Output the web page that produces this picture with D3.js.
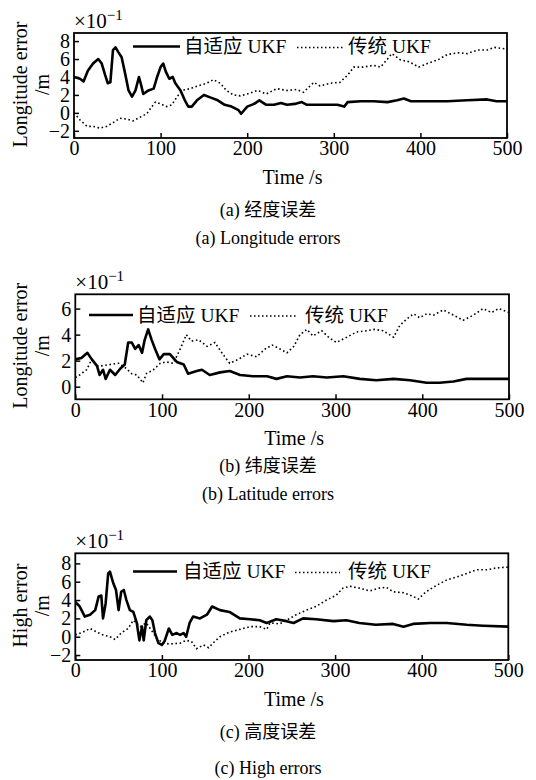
<!DOCTYPE html>
<html><head><meta charset="utf-8">
<script src="https://cdn.jsdelivr.net/npm/d3@7"></script>
<style>
body{margin:0;background:#fff;}
svg{display:block;}
text{font-family:"Liberation Serif","Noto Sans CJK SC",serif;fill:#000;}
</style></head>
<body><svg id="c" width="536" height="780"></svg>
<script>
// ---------- data ----------
const timeTicks = [0,100,200,300,400,500];
const yTicksA = [-2,0,2,4,6,8];
const yTicksB = [0,2,4,6];
const yTicksC = [-2,0,2,4,6,8];
const seriesNames = ["自适应 UKF","传统 UKF"];
const captionsCN = ["(a) 经度误差","(b) 纬度误差","(c) 高度误差"];
const captionsEN = ["(a) Longitude errors","(b) Latitude errors","(c) High errors"];
const yLabels = ["Longitude error","Longitude error","High error"];

// panel (a): [time s, error x10^-1 m]
const lonAdaptive = [[0,4.0],[7,3.8],[11,3.5],[16,4.7],[22,5.5],[28,6.0],[32,5.5],[36,4.2],[39,3.3],[42,3.4],[45,7.0],[48,7.3],[51,6.8],[55,6.2],[59,4.4],[63,2.5],[67,1.8],[71,2.5],[75,4.0],[77,3.3],[80,2.1],[86,2.5],[92,2.7],[96,4.0],[100,5.1],[103,5.5],[106,4.6],[110,3.8],[114,4.0],[117,3.3],[123,2.5],[128,1.4],[132,0.7],[136,0.7],[142,1.4],[150,2.0],[158,1.7],[166,1.4],[174,0.9],[182,0.7],[190,0.3],[193,-0.1],[200,0.7],[208,1.0],[214,1.4],[222,0.9],[231,0.9],[239,1.1],[246,0.9],[255,1.0],[263,1.2],[269,0.9],[281,0.9],[293,0.9],[304,0.9],[312,0.7],[316,1.2],[331,1.3],[346,1.3],[362,1.2],[373,1.4],[381,1.6],[389,1.3],[408,1.3],[431,1.3],[454,1.4],[477,1.5],[488,1.3],[500,1.3]];
const lonTraditional = [[0,0],[7,-0.8],[15,-1.5],[22,-1.5],[30,-1.7],[38,-1.5],[45,-1.1],[53,-0.6],[61,-0.7],[68,-0.9],[76,-0.5],[84,-0.1],[90,0.7],[94,1.2],[100,1.0],[107,0.7],[113,0.9],[119,1.8],[125,2.5],[134,2.7],[146,3.1],[153,3.3],[161,3.7],[169,3.3],[176,2.5],[184,2.0],[192,1.9],[200,2.1],[212,2.5],[222,2.1],[234,2.7],[246,2.5],[257,2.6],[265,2.3],[277,3.4],[284,3.0],[296,3.3],[307,3.4],[316,4.2],[323,5.1],[334,5.1],[346,5.3],[354,5.1],[362,6.0],[367,6.6],[377,5.9],[387,5.7],[398,5.1],[408,5.5],[420,5.9],[431,6.5],[443,6.7],[454,6.6],[466,7.0],[477,7.0],[485,7.3],[500,7.1]];

// panel (b)
const latAdaptive = [[0,2.1],[7,2.2],[14,2.6],[19,2.1],[25,1.6],[28,0.9],[32,1.3],[35,0.6],[40,1.3],[46,0.9],[52,1.4],[57,1.7],[61,3.4],[65,3.4],[69,2.9],[73,3.2],[77,2.6],[80,3.6],[84,4.4],[88,3.6],[92,2.9],[97,2.1],[102,2.5],[109,2.5],[117,1.9],[125,1.7],[130,1.0],[140,1.2],[146,1.3],[155,0.9],[167,1.1],[178,1.2],[190,0.9],[205,0.8],[221,0.8],[232,0.6],[244,0.8],[259,0.7],[274,0.8],[290,0.7],[309,0.8],[328,0.6],[347,0.5],[367,0.6],[386,0.5],[405,0.3],[420,0.3],[436,0.4],[451,0.6],[470,0.6],[500,0.6]];
const latTraditional = [[0,0.7],[5,0.9],[13,1.3],[19,2.1],[25,1.6],[30,1.6],[40,1.7],[50,1.8],[57,1.5],[65,1.0],[71,0.9],[78,0.3],[82,1.0],[90,1.3],[98,1.8],[105,1.9],[113,1.8],[121,2.9],[128,4.0],[134,3.5],[142,3.6],[152,3.1],[161,3.4],[169,2.6],[178,1.8],[188,2.1],[198,2.5],[209,2.3],[219,2.9],[227,3.2],[236,2.9],[244,2.6],[252,3.1],[259,4.0],[267,4.4],[274,3.9],[284,4.3],[292,3.8],[301,3.4],[313,3.8],[324,4.2],[336,4.3],[345,4.4],[355,4.3],[367,3.8],[374,4.7],[382,5.2],[390,5.6],[397,5.3],[405,5.6],[413,5.5],[424,5.9],[436,5.5],[447,5.1],[459,5.5],[470,6.0],[480,5.7],[488,6.0],[500,5.7]];

// panel (c)
const hgtAdaptive = [[0,3.8],[5,3.3],[11,2.2],[17,2.4],[23,2.9],[27,4.4],[30,4.5],[32,2.0],[35,3.6],[38,6.9],[40,7.1],[44,5.8],[47,5.1],[50,2.9],[53,4.9],[56,5.1],[59,4.0],[63,2.9],[67,2.7],[71,1.5],[74,-0.4],[77,1.1],[79,-0.4],[82,1.8],[86,2.2],[89,1.8],[92,0.4],[96,-0.7],[100,-0.9],[103,-0.5],[108,0.9],[112,0.2],[117,0.4],[121,0.2],[125,0.4],[128,0.0],[132,1.5],[136,2.2],[144,2.0],[152,2.4],[158,3.3],[167,2.9],[178,2.7],[190,2.0],[202,1.9],[213,1.8],[221,1.5],[232,1.9],[244,1.7],[252,1.5],[263,2.0],[278,1.9],[298,1.7],[313,1.8],[328,1.5],[347,1.3],[367,1.4],[379,1.1],[390,1.4],[410,1.5],[429,1.5],[452,1.3],[471,1.2],[500,1.1]];
const hgtTraditional = [[0,0.2],[9,0.5],[17,0.9],[25,0.5],[32,0.2],[40,0.0],[46,-0.3],[53,0.4],[61,0.9],[67,1.8],[75,1.1],[82,1.5],[88,0.7],[94,-0.2],[102,-0.7],[109,-0.8],[121,-0.7],[128,-0.4],[134,-0.5],[140,-1.3],[148,-0.9],[154,-1.2],[159,-0.7],[167,0.0],[178,0.5],[190,0.8],[202,1.1],[213,1.1],[221,0.8],[225,1.5],[236,1.4],[248,2.0],[255,2.4],[267,2.9],[278,3.3],[290,4.0],[301,4.5],[309,5.3],[317,5.5],[328,5.3],[340,5.0],[351,5.3],[359,5.4],[367,4.9],[379,4.8],[390,4.4],[396,4.1],[405,4.9],[417,5.6],[429,6.2],[440,6.5],[452,6.9],[463,7.3],[475,7.3],[486,7.5],[500,7.6]];

// ---------- layout ----------
const panels = [
  {x0:74, x1:507, top:33, bottom:138, yDom:[-2.8,8.9], yTicks:yTicksA, a:lonAdaptive, t:lonTraditional,
   legY:46.5, legSolid:[133,180], legText1:184, legDot:[297,343], legText2:348, yLab:yLabels[0], capY:[210,238]},
  {x0:75.3, x1:509, top:294.3, bottom:399.3, yDom:[-0.97,7.1], yTicks:yTicksB, a:latAdaptive, t:latTraditional,
   legY:315, legSolid:[89,133], legText1:137, legDot:[250,298], legText2:305, yLab:yLabels[1], capY:[466,494]},
  {x0:75.3, x1:508.3, top:553.3, bottom:660, yDom:[-2.54,9.1], yTicks:yTicksC, a:hgtAdaptive, t:hgtTraditional,
   legY:571.5, legSolid:[133,177], legText1:183, legDot:[295,340], legText2:348, yLab:yLabels[2], capY:[732,768]}
];

const svg = d3.select("#c");
const fmt = d => d < 0 ? "\u2212" + Math.abs(d) : String(d);

panels.forEach((p, i) => {
  const g = svg.append("g");
  const x = d3.scaleLinear().domain([0,500]).range([p.x0, p.x1]);
  const y = d3.scaleLinear().domain(p.yDom).range([p.bottom, p.top]);

  // axes with inward ticks
  const ax = g.append("g").attr("transform", `translate(0,${p.bottom})`)
    .call(d3.axisBottom(x).tickValues(timeTicks).tickSizeInner(-5).tickSizeOuter(0).tickPadding(3));
  const ay = g.append("g").attr("transform", `translate(${p.x0},0)`)
    .call(d3.axisLeft(y).tickValues(p.yTicks).tickFormat(fmt).tickSizeInner(-5).tickSizeOuter(0).tickPadding(4));
  [ax, ay].forEach(a => {
    a.select(".domain").remove();
    a.selectAll("line").attr("stroke", "#000").attr("stroke-width", 1.5);
    a.selectAll("text").style("font-family", '"Liberation Serif",serif').style("font-size", "20px").attr("fill", "#000");
  });

  // clip
  const cid = "clip" + i;
  svg.append("clipPath").attr("id", cid).append("rect")
    .attr("x", p.x0).attr("y", p.top).attr("width", p.x1 - p.x0).attr("height", p.bottom - p.top);

  const line = d3.line().x(d => x(d[0])).y(d => y(d[1]));
  g.append("path").datum(p.t).attr("d", line).attr("clip-path", `url(#${cid})`)
    .attr("fill", "none").attr("stroke", "#000").attr("stroke-width", 1.6).attr("stroke-dasharray", "1.6,2.6");
  g.append("path").datum(p.a).attr("d", line).attr("clip-path", `url(#${cid})`)
    .attr("fill", "none").attr("stroke", "#000").attr("stroke-width", 2.6).attr("stroke-linejoin", "round");

  // frame
  g.append("rect").attr("x", p.x0).attr("y", p.top).attr("width", p.x1 - p.x0).attr("height", p.bottom - p.top)
    .attr("fill", "none").attr("stroke", "#000").attr("stroke-width", 1.8);

  // legend
  g.append("line").attr("x1", p.legSolid[0]).attr("x2", p.legSolid[1]).attr("y1", p.legY).attr("y2", p.legY)
    .attr("stroke", "#000").attr("stroke-width", 2.4);
  g.append("text").attr("x", p.legText1).attr("y", p.legY).attr("dy", "0.35em").style("font-size", "19.5px").text(seriesNames[0]);
  g.append("line").attr("x1", p.legDot[0]).attr("x2", p.legDot[1]).attr("y1", p.legY + 1).attr("y2", p.legY + 1)
    .attr("stroke", "#000").attr("stroke-width", 1.5).attr("stroke-dasharray", "1.5,2.5");
  g.append("text").attr("x", p.legText2).attr("y", p.legY).attr("dy", "0.35em").style("font-size", "19.5px").text(seriesNames[1]);

  // exponent
  const ex = g.append("text").attr("x", p.x0).attr("y", p.top - 5).style("font-size", "21px");
  ex.append("tspan").text("\u00d710");
  ex.append("tspan").attr("dy", -8).style("font-size", "15px").text("\u22121");

  // y label
  const cy = (p.top + p.bottom) / 2 - 1;
  g.append("text").attr("transform", `translate(20,${cy}) rotate(-90)`).attr("text-anchor", "middle")
    .attr("dy", "0.35em").style("font-size", "20px").text(p.yLab);
  g.append("text").attr("transform", `translate(42,${cy}) rotate(-90)`).attr("text-anchor", "middle")
    .attr("dy", "0.35em").style("font-size", "20px").text("/m");

  // x label
  g.append("text").attr("x", (p.x0 + p.x1) / 2 + 2).attr("y", p.bottom + 39).attr("dy", "0.35em")
    .attr("text-anchor", "middle").style("font-size", "20px").text("Time /s");

  // captions
  g.append("text").attr("x", 268).attr("y", p.capY[0]).attr("dy", "0.35em").attr("text-anchor", "middle")
    .style("font-size", "18px").text(captionsCN[i]);
  g.append("text").attr("x", 268).attr("y", p.capY[1]).attr("dy", "0.35em").attr("text-anchor", "middle")
    .style("font-size", "18px").text(captionsEN[i]);
});
</script></body></html>
